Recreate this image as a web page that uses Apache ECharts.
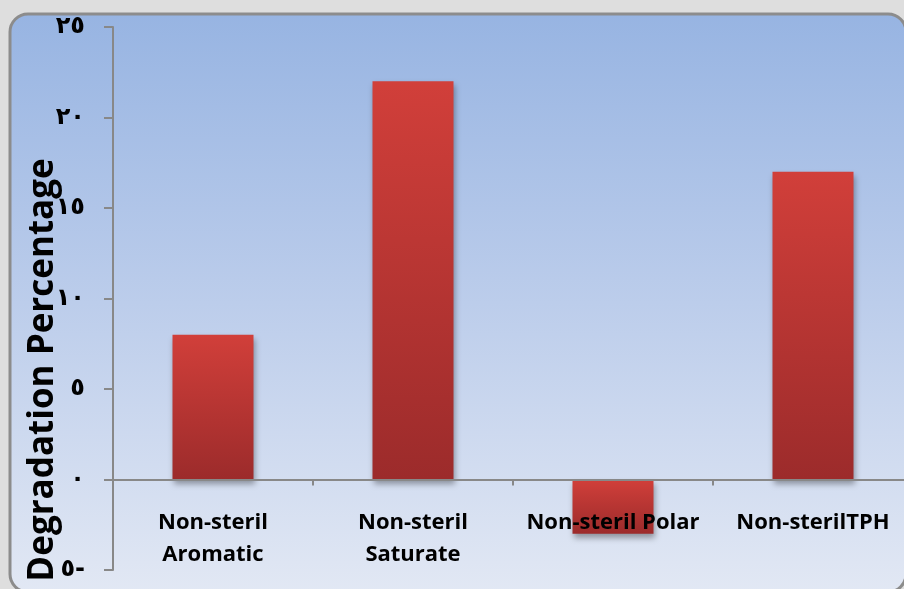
<!DOCTYPE html>
<html>
<head>
<meta charset="utf-8">
<script src="https://cdn.jsdelivr.net/npm/echarts@6/dist/echarts.min.js"></script>
<style>
html,body{margin:0;padding:0;background:#dedede;}
#chart{width:904px;height:589px;}
</style>
</head>
<body>
<div id="chart"></div>
<script>
var categories = ['Non-steril\nAromatic', 'Non-steril\nSaturate', 'Non-steril Polar', 'Non-sterilTPH'];
var values = [8, 22, -3, 17];
var yTicks = [-5, 0, 5, 10, 15, 20, 25];
var yName = 'Degradation Percentage';

var arabicDigits = ['٠','١','٢','٣','٤','٥','٦','٧','٨','٩'];
function toArabic(v) {
  var s = String(Math.abs(v)).split('').map(function (c) { return arabicDigits[+c]; }).join('');
  return v < 0 ? s + '-' : s;
}

var chart = echarts.init(document.getElementById('chart'), null, {renderer: 'canvas'});
chart.setOption({
  backgroundColor: '#dedede',
  animation: false,
  graphic: [
    {
      type: 'rect', z: -10, silent: true,
      shape: {x: 10, y: 14, width: 896, height: 578, r: 18},
      style: {
        fill: new echarts.graphic.LinearGradient(0, 0, 0, 1, [
          {offset: 0, color: '#97b4e2'},
          {offset: 0.5, color: '#bccdeb'},
          {offset: 1, color: '#e2e8f4'}
        ]),
        stroke: '#8c8c8c', lineWidth: 3
      }
    },
    {
      type: 'text', z: 10, silent: true,
      x: 43, y: 370, rotation: Math.PI / 2,
      style: {
        text: yName,
        fontFamily: 'Open Sans', fontWeight: 'bold', fontSize: 35,
        fill: '#000', align: 'center', verticalAlign: 'middle'
      }
    }
  ],
  grid: {
    left: 113, top: 27, width: 800, height: 543, containLabel: false,
    outerBounds: {left: -100, top: -100, right: -100, bottom: -300}
  },
  xAxis: {
    type: 'category',
    data: categories,
    z: 5,
    axisLine: {onZero: true, lineStyle: {color: '#888888', width: 2}},
    axisTick: {show: true, length: 6, lineStyle: {color: '#888888', width: 2}},
    axisLabel: {
      interval: 0, margin: -63, color: '#000',
      fontFamily: 'Open Sans', fontWeight: 'bold', fontSize: 22, lineHeight: 32
    },
    splitLine: {show: false}
  },
  yAxis: {
    type: 'value',
    min: yTicks[0], max: yTicks[yTicks.length - 1], interval: 5,
    axisLine: {show: true, lineStyle: {color: '#888888', width: 2}},
    axisTick: {show: true, length: 9, lineStyle: {color: '#888888', width: 2}},
    splitLine: {show: false},
    axisLabel: {
      margin: 28, color: '#000',
      fontFamily: 'DejaVu Sans', fontWeight: 'bold', fontSize: 24,
      formatter: function (v) { return toArabic(v); }
    }
  },
  series: [{
    type: 'bar',
    data: values,
    barWidth: 81,
    itemStyle: {
      color: new echarts.graphic.LinearGradient(0, 0, 0, 1, [
        {offset: 0, color: '#d13f3a'},
        {offset: 1, color: '#9c2b2b'}
      ]),
      shadowColor: 'rgba(0,0,0,0.35)', shadowBlur: 6, shadowOffsetY: 4, shadowOffsetX: 1
    }
  }]
});
</script>
</body>
</html>
